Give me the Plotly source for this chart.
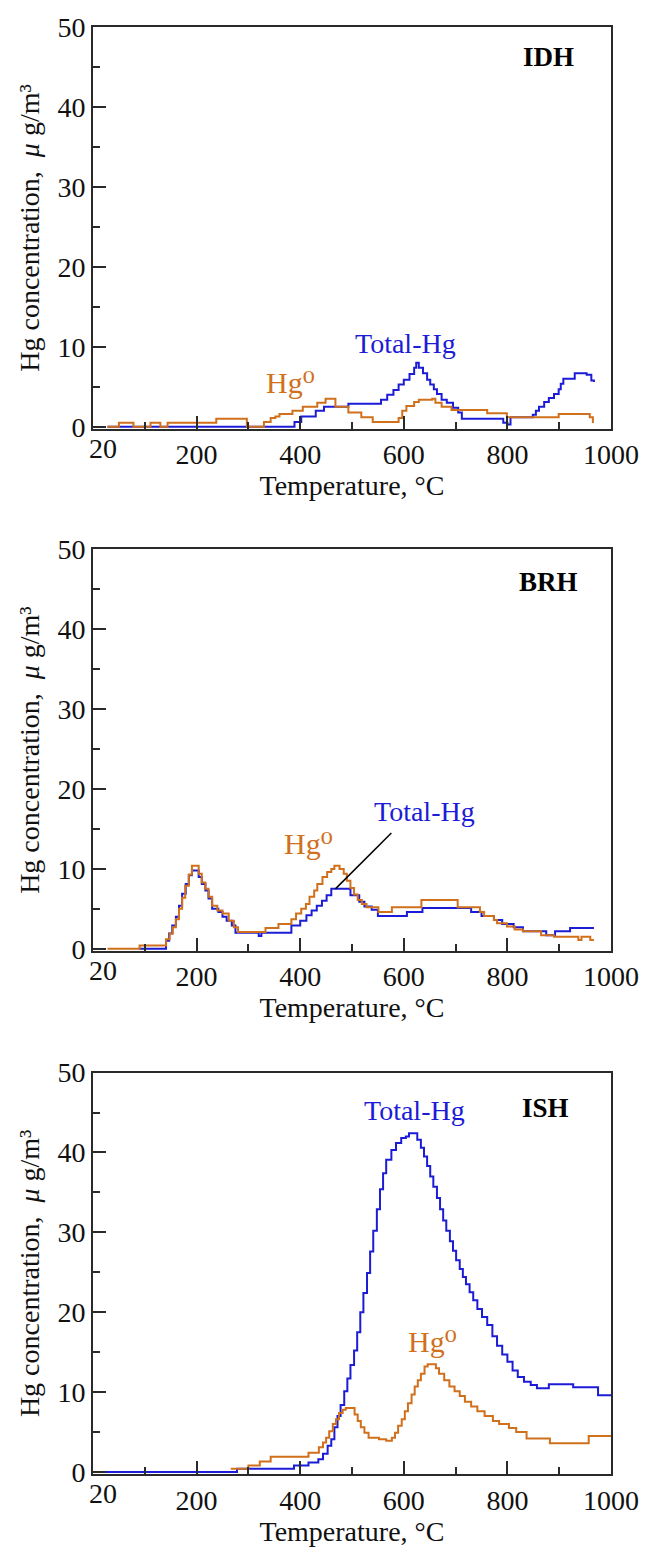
import plotly.graph_objects as go

# ---------------- data: Hg concentration (ug/m3) vs temperature (deg C) ----------------
# IDH
idh_total_t = [28, 389, 402, 430, 446, 493, 556, 568, 580, 590, 600, 611, 620, 624, 629, 637, 645,
               651, 658, 664, 673, 683, 695, 705, 712, 792, 800, 806, 849, 855, 861, 871, 880, 890,
               899, 903, 908, 930, 953, 962, 967]
idh_total_v = [0, 0.6, 1.3, 2.0, 2.5, 2.9, 3.4, 4.0, 4.6, 5.3, 5.9, 6.6, 7.4, 8.0, 7.4, 6.7, 5.9,
               5.3, 4.7, 4.1, 3.4, 3.0, 2.4, 1.8, 1.0, 0.5, 0.3, 1.2, 1.5, 2.0, 2.5, 3.1, 3.6, 4.1,
               4.7, 5.4, 6.0, 6.7, 6.5, 5.8, 5.6]
idh_hg0_t = [28, 50, 78, 111, 130, 144, 238, 297, 330, 343, 352, 360, 385, 405, 433, 449, 468, 493,
             518, 540, 590, 597, 605, 620, 629, 655, 661, 673, 692, 761, 799, 899, 959, 965, 967]
idh_hg0_v = [0, 0.5, 0, 0.5, 0, 0.5, 1.0, 0, 0.6, 1.1, 1.3, 1.6, 2.0, 2.5, 3.0, 3.5, 2.5, 1.8,
             1.2, 0.6, 1.1, 2.0, 2.6, 3.1, 3.4, 3.5, 3.0, 2.5, 2.1, 1.7, 1.2, 1.6, 1.2, 0.6, 0.6]

# BRH
brh_total_t = [88, 141, 147, 153, 160, 166, 172, 179, 185, 191, 204, 210, 217, 223, 230, 242, 250,
               258, 268, 275, 320, 325, 383, 400, 412, 422, 432, 442, 451, 460, 497, 514, 524, 538,
               550, 606, 636, 730, 750, 774, 790, 812, 830, 875, 892, 921, 967]
brh_total_v = [0, 1.0, 1.9, 2.9, 4.0, 5.4, 6.9, 8.1, 9.2, 9.8, 9.0, 8.1, 7.3, 6.3, 5.0, 4.6, 4.0,
               3.5, 2.9, 2.0, 1.6, 2.0, 2.9, 3.5, 4.2, 4.8, 5.4, 6.0, 6.7, 7.5, 6.7, 5.9, 5.3, 4.9,
               4.1, 4.6, 5.1, 4.6, 4.1, 3.6, 3.1, 2.7, 2.2, 1.7, 2.2, 2.6, 2.6]
brh_hg0_t = [28, 90, 141, 148, 154, 160, 166, 172, 178, 185, 191, 204, 210, 217, 223, 230, 240, 250,
             262, 272, 280, 333, 358, 383, 392, 402, 411, 418, 427, 433, 443, 452, 460, 466, 476,
             484, 490, 497, 504, 511, 519, 528, 551, 577, 634, 704, 747, 755, 774, 780, 799, 814,
             830, 865, 890, 937, 943, 960, 967]
brh_hg0_v = [0, 0.4, 1.2, 1.9, 2.7, 3.7, 5.0, 6.4, 7.9, 9.3, 10.4, 9.4, 8.3, 7.5, 6.5, 5.4, 4.8, 4.4,
             3.5, 2.7, 2.1, 2.6, 3.1, 3.7, 4.4, 5.0, 5.6, 6.5, 7.3, 8.1, 9.0, 9.6, 10.0, 10.4, 10.0,
             9.4, 8.5, 7.6, 6.8, 6.1, 5.6, 5.2, 4.6, 5.2, 6.1, 5.2, 4.6, 4.1, 3.6, 3.2, 2.8, 2.4,
             2.2, 1.7, 1.5, 1.1, 1.5, 1.1, 1.1]

# ISH
ish_total_t = [25, 278, 388, 416, 435, 444, 453, 460, 466, 472, 478, 485, 491, 497, 504, 510, 516,
               522, 529, 535, 541, 548, 554, 560, 566, 576, 585, 595, 604, 610, 626, 633, 639, 645,
               651, 657, 664, 670, 676, 682, 689, 695, 701, 708, 714, 720, 727, 734, 742, 751, 761,
               771, 780, 790, 800, 810, 820, 832, 845, 857, 880, 927, 975, 1000]
ish_total_v = [0, 0.4, 0.8, 1.2, 1.6, 2.3, 3.3, 4.1, 5.6, 7.0, 8.4, 10.1, 11.7, 13.4, 15.2, 17.5, 20.0,
               22.4, 24.9, 27.6, 30.2, 32.9, 35.4, 37.4, 39.1, 40.3, 41.2, 41.8, 42.0, 42.4, 41.6, 40.6,
               39.5, 38.3, 37.0, 35.7, 34.3, 32.9, 31.5, 30.2, 28.9, 27.7, 26.5, 25.4, 24.4, 23.5,
               22.5, 21.5, 20.4, 19.4, 18.4, 17.0, 15.8, 14.7, 13.8, 12.7, 11.9, 11.3, 10.9, 10.5,
               11.0, 10.6, 9.6, 9.6]
ish_hg0_t = [266, 300, 322, 343, 416, 436, 444, 450, 456, 463, 469, 475, 482, 488, 505, 511, 517, 524,
             532, 552, 566, 577, 583, 589, 596, 602, 608, 615, 621, 627, 633, 640, 646, 662, 668, 678,
             688, 698, 708, 718, 730, 742, 756, 772, 784, 803, 817, 837, 882, 957, 1000]
ish_hg0_v = [0.4, 0.8, 1.3, 1.9, 2.4, 3.1, 3.7, 4.3, 5.1, 6.0, 6.6, 7.4, 7.8, 8.0, 7.2, 6.4, 5.6, 4.9,
             4.3, 4.1, 3.9, 4.3, 4.9, 5.8, 6.6, 7.6, 8.6, 9.7, 10.7, 11.5, 12.3, 13.2, 13.5, 13.0, 12.3,
             11.5, 10.7, 10.1, 9.5, 8.8, 8.2, 7.6, 7.0, 6.4, 6.0, 5.5, 5.0, 4.2, 3.6, 4.5, 4.5]

panel_names = ["IDH", "BRH", "ISH"]
x_tick_values = [20, 200, 400, 600, 800, 1000]
x_minor_values = [100, 300, 500, 700, 900]
y_tick_values = [0, 10, 20, 30, 40, 50]

# leader line for the BRH Total-Hg label: (curve end, label end)
brh_leader_t = [468, 576]
brh_leader_v = [7.5, 14.5]

# ---------------- styling ----------------
FONT = "Liberation Serif, DejaVu Serif, serif"
BLUE = "rgb(28,28,214)"
ORANGE = "rgb(208,112,28)"
AXC = "#2a2a2a"
TXT = "#111111"

fig = go.Figure()

series = [
    (idh_total_t, idh_total_v, idh_hg0_t, idh_hg0_v),
    (brh_total_t, brh_total_v, brh_hg0_t, brh_hg0_v),
    (ish_total_t, ish_total_v, ish_hg0_t, ish_hg0_v),
]
domains = [[0.7223, 1.0], [0.3616, 0.6390], [0.0, 0.2774]]

for i, (tt, tv, ht, hv) in enumerate(series):
    sfx = "" if i == 0 else str(i + 1)
    fig.add_trace(go.Scatter(x=tt, y=tv, mode="lines", line=dict(color=BLUE, width=2, shape="hv"),
                             xaxis="x" + sfx, yaxis="y" + sfx, showlegend=False, name="Total-Hg"))
    fig.add_trace(go.Scatter(x=ht, y=hv, mode="lines", line=dict(color=ORANGE, width=2, shape="hv"),
                             xaxis="x" + sfx, yaxis="y" + sfx, showlegend=False, name="Hg0"))

# leader line (BRH panel)
fig.add_trace(go.Scatter(x=brh_leader_t, y=brh_leader_v, mode="lines",
                         line=dict(color="black", width=1.5), xaxis="x2", yaxis="y2",
                         showlegend=False, hoverinfo="skip"))

layout = dict(
    width=651, height=1553,
    margin=dict(l=93, r=28, t=24, b=69),
    paper_bgcolor="white", plot_bgcolor="white",
    font=dict(family=FONT, color=TXT, size=28),
)

marked_ticks = [v for v in x_tick_values if v >= 100]
for i in range(3):
    sfx = "" if i == 0 else str(i + 1)
    layout["xaxis" + sfx] = dict(
        domain=[0, 1], anchor="y" + sfx, range=[0, 1000],
        showline=True, linecolor=AXC, linewidth=2, mirror=True,
        ticks="inside", ticklen=13, tickwidth=2, tickcolor=AXC,
        tickvals=marked_ticks, ticktext=[str(v) for v in marked_ticks],
        minor=dict(tickvals=x_minor_values, ticks="inside", ticklen=7, tickwidth=2, tickcolor=AXC),
        showgrid=False, zeroline=False,
        tickfont=dict(family=FONT, size=28, color=TXT),
        title=dict(text="Temperature, \u00b0C", font=dict(family=FONT, size=28, color=TXT),
                   standoff=6),
    )
    layout["yaxis" + sfx] = dict(
        domain=domains[i], anchor="x" + sfx, range=[-0.25, 50],
        showline=True, linecolor=AXC, linewidth=2, mirror=True,
        ticks="inside", ticklen=13, tickwidth=2, tickcolor=AXC,
        tickvals=y_tick_values,
        minor=dict(dtick=5, tick0=0, ticks="inside", ticklen=7, tickwidth=2, tickcolor=AXC),
        showgrid=False, zeroline=False,
        tickfont=dict(family=FONT, size=28, color=TXT),
        title=dict(text="Hg concentration,\u00a0\u00a0<i>\u03bc</i> g/m\u00b3",
                   font=dict(family=FONT, size=28, color=TXT), standoff=10),
    )

fig.update_layout(**layout)

# ---------------- labels ----------------
label_pos = {
    # panel: (name_x, name_y, total_x, total_y, hg0_x, hg0_y)
    0: (880, 46.2, 604, 10.4, 382, 5.6),
    1: (880, 45.9, 640, 17.2, 416, 13.2),
    2: (874, 45.6, 621, 45.2, 656, 16.4),
}
for i in range(3):
    sfx = "" if i == 0 else str(i + 1)
    nx, ny, tx, ty, hx, hy = label_pos[i]
    fig.add_annotation(x=nx, y=ny, xref="x" + sfx, yref="y" + sfx, text="<b>%s</b>" % panel_names[i],
                       showarrow=False, font=dict(family=FONT, size=27, color="black"))
    fig.add_annotation(x=tx, y=ty, xref="x" + sfx, yref="y" + sfx, text="Total-Hg",
                       showarrow=False, font=dict(family=FONT, size=28, color=BLUE))
    fig.add_annotation(x=hx, y=hy, xref="x" + sfx, yref="y" + sfx, text="Hg\u2070",
                       showarrow=False, font=dict(family=FONT, size=30, color=ORANGE))
    # first tick label sits at 20 without a tick mark
    fig.add_annotation(x=x_tick_values[0], y=0, xref="x" + sfx, yref="y" + sfx,
                       text=str(x_tick_values[0]), showarrow=False, yanchor="top", yshift=-4,
                       font=dict(family=FONT, size=28, color=TXT))

fig.write_html("out.html")
